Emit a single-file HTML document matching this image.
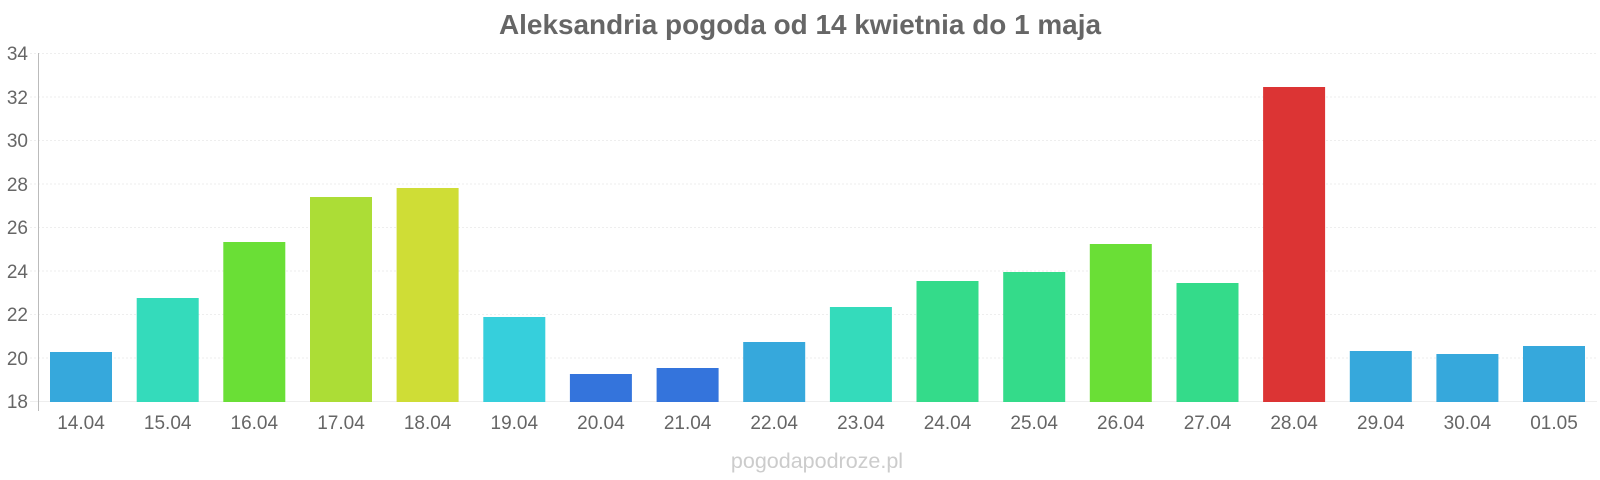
<!DOCTYPE html>
<html><head><meta charset="utf-8"><style>
html,body{margin:0;padding:0;background:#fff;}
svg{display:block;font-family:"Liberation Sans",Arial,sans-serif;}
</style></head><body>
<svg width="1600" height="480" viewBox="0 0 1600 480" xmlns="http://www.w3.org/2000/svg">
<text x="800" y="34" text-anchor="middle" font-size="28" font-weight="bold" fill="#666" textLength="602" lengthAdjust="spacingAndGlyphs">Aleksandria pogoda od 14 kwietnia do 1 maja</text>
<g stroke="#eee" stroke-width="1" stroke-dasharray="2,2">
<line x1="30" x2="1597" y1="53.5" y2="53.5"/>
<line x1="30" x2="1597" y1="97" y2="97"/>
<line x1="30" x2="1597" y1="140.5" y2="140.5"/>
<line x1="30" x2="1597" y1="184" y2="184"/>
<line x1="30" x2="1597" y1="227.5" y2="227.5"/>
<line x1="30" x2="1597" y1="271" y2="271"/>
<line x1="30" x2="1597" y1="314.5" y2="314.5"/>
<line x1="30" x2="1597" y1="358" y2="358"/>
</g>
<line x1="30" x2="1597" y1="401.5" y2="401.5" stroke="#eee"/>
<line x1="38.5" x2="38.5" y1="53" y2="411" stroke="#bbb"/>
<g font-size="19" fill="#666" text-anchor="end">
<text x="28" y="60">34</text><text x="28" y="104">32</text><text x="28" y="147">30</text><text x="28" y="191">28</text><text x="28" y="234">26</text><text x="28" y="278">24</text><text x="28" y="321">22</text><text x="28" y="365">20</text><text x="28" y="408">18</text>
</g>
<g>
<rect x="50" y="352" width="62" height="50" fill="#36a8dc"/>
<rect x="136.7" y="298" width="62" height="104" fill="#34dbbb"/>
<rect x="223.3" y="242" width="62" height="160" fill="#6adf36"/>
<rect x="310" y="197" width="62" height="205" fill="#acdd36"/>
<rect x="396.6" y="188" width="62" height="214" fill="#cfdd36"/>
<rect x="483.3" y="317" width="62" height="85" fill="#36cfdc"/>
<rect x="569.9" y="374" width="62" height="28" fill="#3474dc"/>
<rect x="656.6" y="368" width="62" height="34" fill="#3474dc"/>
<rect x="743.2" y="342" width="62" height="60" fill="#36a8dc"/>
<rect x="829.9" y="307" width="62" height="95" fill="#34dbbb"/>
<rect x="916.5" y="281" width="62" height="121" fill="#34db8a"/>
<rect x="1003.2" y="272" width="62" height="130" fill="#34db8a"/>
<rect x="1089.8" y="244" width="62" height="158" fill="#6adf36"/>
<rect x="1176.5" y="283" width="62" height="119" fill="#34db8a"/>
<rect x="1263.1" y="87" width="62" height="315" fill="#dc3434"/>
<rect x="1349.8" y="351" width="62" height="51" fill="#36a8dc"/>
<rect x="1436.4" y="354" width="62" height="48" fill="#36a8dc"/>
<rect x="1523" y="346" width="62" height="56" fill="#36a8dc"/>
</g>
<g font-size="19" fill="#666" text-anchor="middle">
<text x="81" y="429">14.04</text><text x="167.7" y="429">15.04</text><text x="254.3" y="429">16.04</text><text x="341" y="429">17.04</text><text x="427.6" y="429">18.04</text><text x="514.3" y="429">19.04</text><text x="600.9" y="429">20.04</text><text x="687.6" y="429">21.04</text><text x="774.2" y="429">22.04</text><text x="860.9" y="429">23.04</text><text x="947.5" y="429">24.04</text><text x="1034.2" y="429">25.04</text><text x="1120.8" y="429">26.04</text><text x="1207.5" y="429">27.04</text><text x="1294.1" y="429">28.04</text><text x="1380.8" y="429">29.04</text><text x="1467.4" y="429">30.04</text><text x="1554" y="429">01.05</text>
</g>
<text x="817" y="468" text-anchor="middle" font-size="21.5" fill="#ccc">pogodapodroze.pl</text>
</svg>
</body></html>
